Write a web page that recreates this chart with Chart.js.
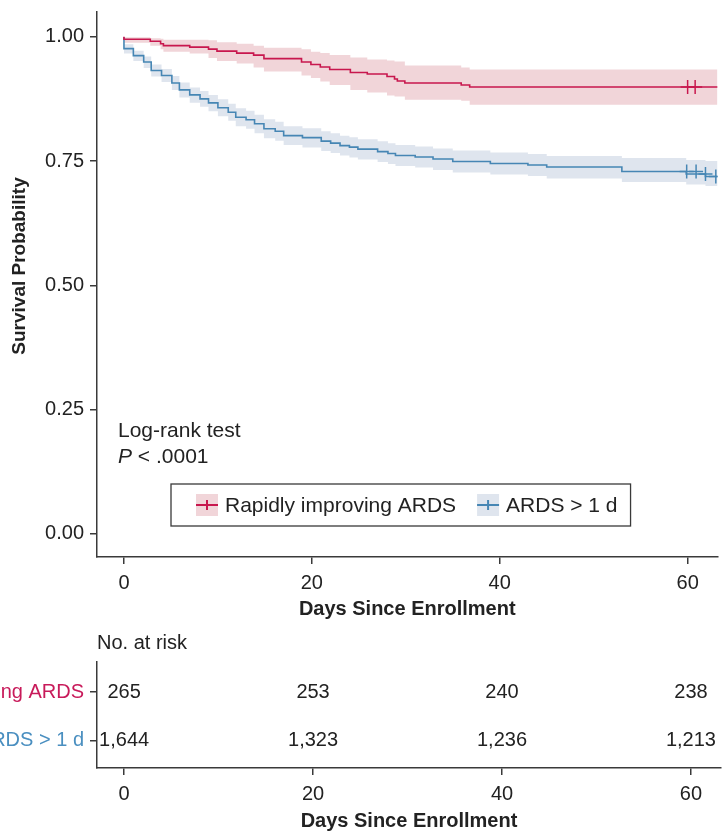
<!DOCTYPE html>
<html>
<head>
<meta charset="utf-8">
<script src="https://cdn.jsdelivr.net/npm/chart.js@4.4.1/dist/chart.umd.min.js"></script>
<style>
    html, body { margin: 0; padding: 0; background: #fff; overflow: hidden; width: 726px; height: 833px; }
    #kmBox { position: absolute; left: 0; top: 0; width: 726px; height: 621px; }
    #riskBox { position: absolute; left: -200px; top: 621px; width: 926px; height: 212px; }
</style>
</head>
<body>
<div id="kmBox"><canvas id="kmChart"></canvas></div>
<div id="riskBox"><canvas id="riskChart"></canvas></div>
<script>
// axis ticks
const xTicks = [0, 20, 40, 60];
const yTicks = [0, 0.25, 0.5, 0.75, 1];

const groupNames = ['Rapidly improving ARDS', 'ARDS > 1 d'];

// Rapidly improving ARDS: KM steps + 95% CI
const rapidDays  = [0, 2.8, 3.9, 4.2, 7.0, 9.0, 9.9, 12.0, 13.8, 14.9, 18.9, 19.9, 20.9, 21.9, 24.1, 25.9, 28.0, 28.8, 29.1, 29.9, 35.9, 36.8, 57.9, 63.2];
const rapidSurv  = [1.000, 0.995, 0.991, 0.986, 0.982, 0.979, 0.975, 0.971, 0.967, 0.963, 0.956, 0.949, 0.944, 0.939, 0.934, 0.928, 0.925, 0.920, 0.915, 0.911, 0.907, 0.903, 0.899, 0.899];
const rapidUpper = [1.000, 0.999, 0.997, 0.996, 0.994, 0.994, 0.993, 0.989, 0.986, 0.982, 0.978, 0.975, 0.970, 0.967, 0.963, 0.958, 0.954, 0.952, 0.950, 0.950, 0.942, 0.938, 0.934, 0.934];
const rapidLower = [1.000, 0.988, 0.982, 0.975, 0.970, 0.966, 0.957, 0.951, 0.946, 0.938, 0.930, 0.922, 0.917, 0.910, 0.903, 0.893, 0.888, 0.882, 0.880, 0.880, 0.873, 0.871, 0.863, 0.863];
const rapidCensorDays = [60.0, 60.8];
const rapidCensorSurv = [0.899, 0.899];

// ARDS > 1 d: KM steps + 95% CI
const longDays  = [0, 1.0, 2.1, 2.9, 4.0, 5.1, 5.9, 7.0, 8.1, 9.0, 10.0, 11.1, 11.9, 13.0, 13.9, 14.9, 16.1, 17.0, 19.0, 21.0, 22.0, 23.0, 24.0, 24.9, 27.0, 28.1, 28.9, 31.0, 32.9, 35.0, 39.0, 43.0, 45.0, 53.0, 59.85, 61.9, 63.0, 63.3];
const longSurv  = [0.999, 0.976, 0.962, 0.949, 0.932, 0.922, 0.907, 0.893, 0.883, 0.875, 0.867, 0.857, 0.848, 0.838, 0.833, 0.825, 0.815, 0.810, 0.801, 0.797, 0.790, 0.786, 0.781, 0.778, 0.774, 0.769, 0.765, 0.761, 0.758, 0.754, 0.749, 0.745, 0.742, 0.738, 0.729, 0.724, 0.719, 0.719];
const longUpper = [1.000, 0.985, 0.972, 0.960, 0.944, 0.935, 0.921, 0.908, 0.898, 0.891, 0.883, 0.874, 0.865, 0.856, 0.851, 0.843, 0.834, 0.829, 0.820, 0.816, 0.810, 0.806, 0.801, 0.798, 0.794, 0.790, 0.786, 0.782, 0.779, 0.775, 0.771, 0.767, 0.764, 0.760, 0.756, 0.752, 0.750, 0.750];
const longLower = [0.994, 0.966, 0.951, 0.937, 0.920, 0.909, 0.893, 0.878, 0.867, 0.859, 0.850, 0.840, 0.831, 0.820, 0.815, 0.806, 0.796, 0.791, 0.782, 0.777, 0.770, 0.766, 0.761, 0.757, 0.753, 0.748, 0.744, 0.740, 0.737, 0.732, 0.727, 0.723, 0.720, 0.715, 0.708, 0.703, 0.700, 0.700];
const longCensorDays = [59.9, 60.9, 61.9, 63.0];
const longCensorSurv = [0.729, 0.729, 0.724, 0.719];

// number at risk table
const riskDays  = [0, 20, 40, 60];
const riskRapid = [265, 253, 240, 238];
const riskLong  = [1644, 1323, 1236, 1213];

const RED = '#c8174e';
const RED_BAND = '#f1d5d9';
const BLUE = '#4686b4';
const BLUE_BAND = '#dfe5ee';
const RED_TEXT = '#c81a5a';
const BLUE_TEXT = '#4a8fc0';
const AXIS = '#3a3a3a';
const FONT = "'Liberation Sans', Arial, Helvetica, sans-serif";

Chart.defaults.font.family = FONT;
Chart.defaults.color = '#222';

function pts(xs, ys) {
    return xs.map((x, i) => ({ x: x, y: ys[i] }));
}

function band(xs, ys, color, fill) {
    return {
        data: pts(xs, ys), stepped: 'after', borderWidth: 0, borderColor: 'transparent',
        pointRadius: 0, backgroundColor: color, fill: fill, order: 3
    };
}

function curve(xs, ys, color) {
    return {
        data: pts(xs, ys), stepped: 'after', borderWidth: 1.6, borderColor: color,
        pointRadius: 0, fill: false, order: 2
    };
}

function censor(xs, ys, color) {
    return {
        data: pts(xs, ys), showLine: false, pointStyle: 'cross', pointRadius: 7,
        borderColor: color, borderWidth: 1.5, order: 1
    };
}

function xAxis(h) {
    return {
        type: 'linear', min: -2.87, max: 63.18,
        afterBuildTicks: s => { s.ticks = xTicks.map(v => ({ value: v })); },
        afterFit: s => { s.height = h; s.paddingLeft = 0; s.paddingRight = 0; },
        grid: { drawOnChartArea: false, drawTicks: true, tickLength: 7, color: AXIS, lineWidth: 1.5 },
        border: { display: true, color: AXIS, width: 1.5 },
        ticks: { font: { size: 20 }, color: '#222', padding: 7, maxRotation: 0 },
        title: { display: true, text: 'Days Since Enrollment', font: { size: 20, weight: 'bold' }, color: '#222', padding: { top: 0, bottom: 0 } }
    };
}

const kmNotes = {
    id: 'kmNotes',
    afterDraw(chart) {
        const { ctx, chartArea: ca } = chart;
        ctx.save();
        ctx.fillStyle = '#222';

        // y axis title, sits a little above the axis centre as in the original
        ctx.save();
        ctx.translate(20, ca.top + 254);
        ctx.rotate(-Math.PI / 2);
        ctx.font = 'bold 19px ' + FONT;
        ctx.textAlign = 'center';
        ctx.textBaseline = 'middle';
        ctx.fillText('Survival Probability', 0, 0);
        ctx.restore();

        ctx.textBaseline = 'alphabetic';
        const tx = ca.left + 21;
        ctx.font = '21px ' + FONT;
        ctx.fillText('Log-rank test', tx, ca.top + 425);
        ctx.font = 'italic 21px ' + FONT;
        ctx.fillText('P', tx, ca.top + 451);
        const pw = ctx.measureText('P').width;
        ctx.font = '21px ' + FONT;
        ctx.fillText(' < .0001', tx + pw, ca.top + 451);

        // legend box
        const boxLeft = ca.left + 74, boxTop = ca.top + 472;
        const items = [
            { text: groupNames[0], line: RED, fill: RED_BAND },
            { text: groupNames[1], line: BLUE, fill: BLUE_BAND }
        ];
        let x = boxLeft + 25;
        items.forEach(it => {
            ctx.fillStyle = it.fill;
            ctx.fillRect(x, boxTop + 10, 22, 22);
            ctx.strokeStyle = it.line;
            ctx.lineWidth = 2;
            ctx.beginPath();
            ctx.moveTo(x, boxTop + 21); ctx.lineTo(x + 22, boxTop + 21);
            ctx.moveTo(x + 11, boxTop + 16); ctx.lineTo(x + 11, boxTop + 26);
            ctx.stroke();
            ctx.fillStyle = '#222';
            ctx.fillText(it.text, x + 29, boxTop + 28);
            x += 29 + ctx.measureText(it.text).width + 21;
        });
        ctx.strokeStyle = AXIS;
        ctx.lineWidth = 1.3;
        ctx.strokeRect(boxLeft, boxTop, x - 21 + 13 - boxLeft, 42);
        ctx.restore();
    }
};

new Chart(document.getElementById('kmChart'), {
    type: 'line',
    data: {
        datasets: [
            band(rapidDays, rapidUpper, RED_BAND, '+1'),
            band(rapidDays, rapidLower, RED_BAND, false),
            band(longDays, longUpper, BLUE_BAND, '+1'),
            band(longDays, longLower, BLUE_BAND, false),
            curve(rapidDays, rapidSurv, RED),
            curve(longDays, longSurv, BLUE),
            censor(rapidCensorDays, rapidCensorSurv, RED),
            censor(longCensorDays, longCensorSurv, BLUE)
        ]
    },
    options: {
        responsive: true,
        maintainAspectRatio: false,
        animation: false,
        layout: { padding: { top: 12, right: 5, bottom: 0, left: 0 } },
        plugins: { legend: { display: false }, tooltip: { enabled: false } },
        scales: {
            x: xAxis(64),
            y: {
                type: 'linear', min: -0.0463, max: 1.0497,
                afterBuildTicks: s => { s.ticks = yTicks.map(v => ({ value: v })); },
                afterFit: s => { s.width = 97; s.paddingTop = 0; s.paddingBottom = 0; },
                grid: { drawOnChartArea: false, drawTicks: true, tickLength: 7, color: AXIS, lineWidth: 1.5 },
                border: { display: true, color: AXIS, width: 1.5 },
                ticks: { font: { size: 20 }, color: '#222', padding: 6, callback: v => v.toFixed(2) }
            }
        }
    },
    plugins: [kmNotes]
});

const riskNumbers = {
    id: 'riskNumbers',
    afterDatasetsDraw(chart) {
        const { ctx, chartArea: ca } = chart;
        ctx.save();
        ctx.font = '20px ' + FONT;
        ctx.fillStyle = '#222';
        ctx.textAlign = 'center';
        ctx.textBaseline = 'middle';
        chart.data.datasets.forEach((ds, i) => {
            chart.getDatasetMeta(i).data.forEach((pt, j) => {
                ctx.fillText(ds.data[j].n.toLocaleString('en-US'), pt.x, pt.y);
            });
        });
        ctx.textAlign = 'left';
        ctx.fillText('No. at risk', ca.left, 22);
        ctx.restore();
    }
};

new Chart(document.getElementById('riskChart'), {
    type: 'scatter',
    data: {
        datasets: [
            { data: riskDays.map((d, j) => ({ x: d, y: 1, n: riskRapid[j] })), pointRadius: 0 },
            { data: riskDays.map((d, j) => ({ x: d, y: 0, n: riskLong[j] })), pointRadius: 0 }
        ]
    },
    options: {
        responsive: true,
        maintainAspectRatio: false,
        animation: false,
        layout: { padding: { top: 41, right: 5, bottom: 0, left: 0 } },
        plugins: { legend: { display: false }, tooltip: { enabled: false } },
        scales: {
            x: xAxis(65),
            y: {
                type: 'linear', min: -0.573, max: 1.625,
                afterBuildTicks: s => { s.ticks = [{ value: 0 }, { value: 1 }]; },
                afterFit: s => { s.width = 297; s.paddingTop = 0; s.paddingBottom = 0; },
                grid: { drawOnChartArea: false, drawTicks: true, tickLength: 7, color: AXIS, lineWidth: 1.5 },
                border: { display: true, color: AXIS, width: 1.5 },
                ticks: {
                    font: { size: 20 }, padding: 6,
                    color: c => (c.tick && c.tick.value === 1 ? RED_TEXT : BLUE_TEXT),
                    callback: v => (v === 1 ? groupNames[0] : groupNames[1])
                }
            }
        }
    },
    plugins: [riskNumbers]
});
</script>
</body>
</html>
